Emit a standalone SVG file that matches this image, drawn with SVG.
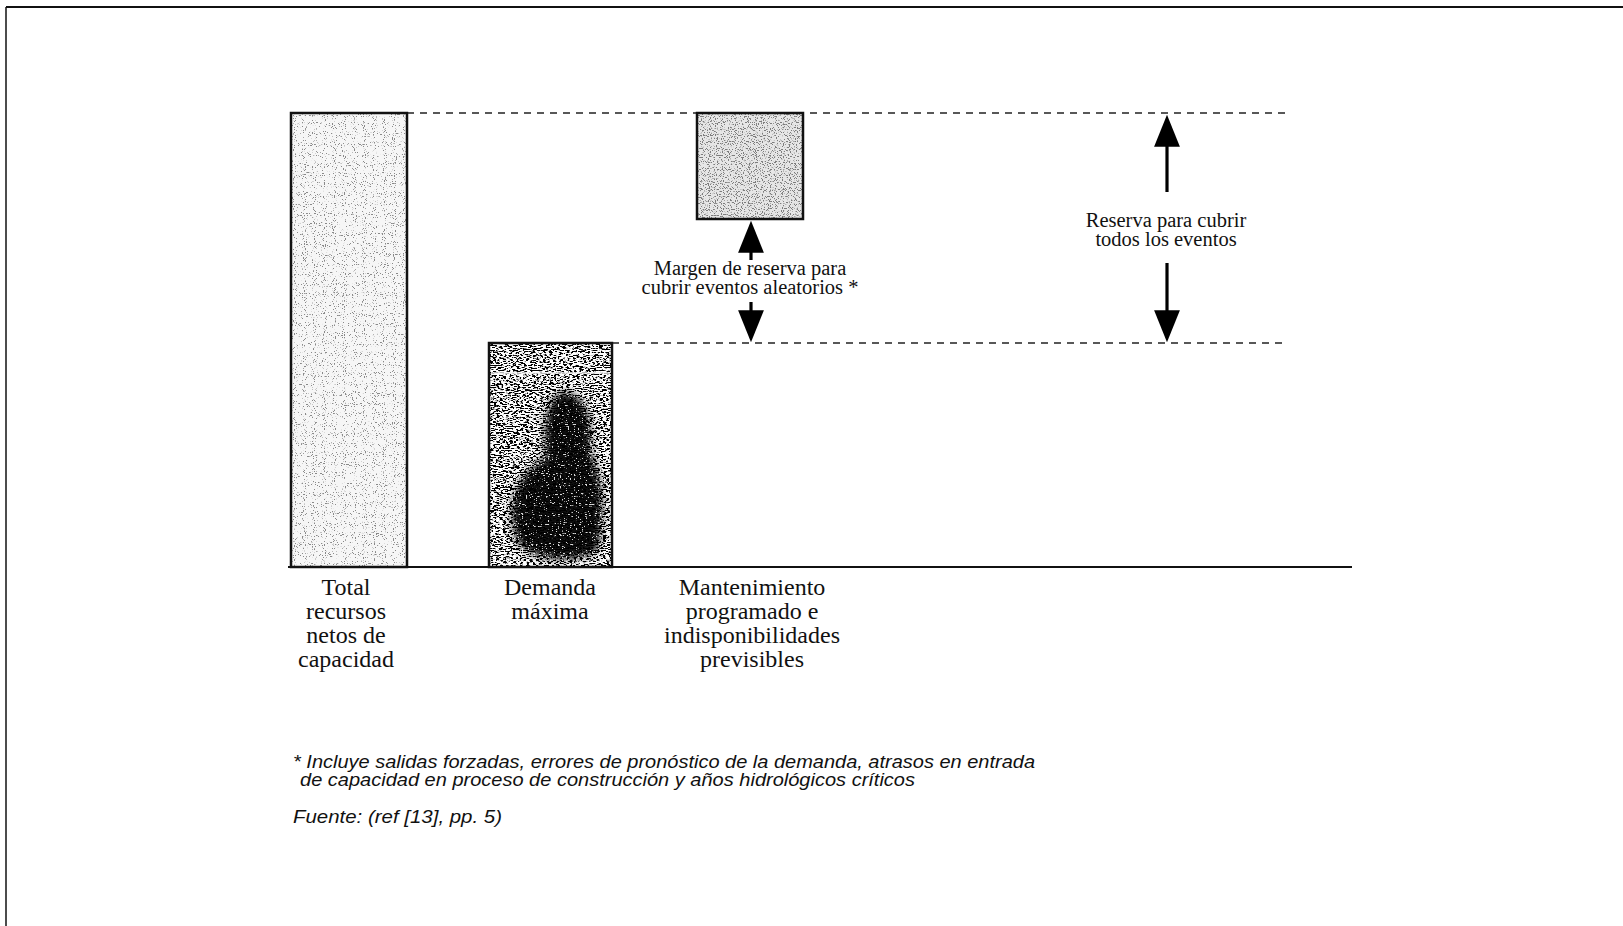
<svg xmlns="http://www.w3.org/2000/svg" width="1623" height="926" viewBox="0 0 1623 926">
  <style>
    .edge { fill: none; stroke: #111; stroke-width: 2.5; }
    .guide { fill: none; stroke: #222; stroke-width: 1.6; stroke-dasharray: 7 6; }
    .axis { stroke: #111; stroke-width: 2; }
    .frame { stroke: #111; fill: none; }
    .shaft { stroke: #000; stroke-width: 3.2; }
    .lbl { font-family: "Liberation Serif", "Times New Roman", serif; font-size: 24px; fill: #111; text-anchor: middle; }
    .small { font-family: "Liberation Serif", "Times New Roman", serif; font-size: 20.5px; fill: #111; text-anchor: middle; }
    .note { font-family: "Liberation Sans Narrow", "Liberation Sans", Arial, sans-serif; font-style: italic; font-size: 18px; fill: #111; }
  </style>
  <defs>
    <!-- light speckle: sparse dark dots on white -->
    <filter id="grainLight" x="0" y="0" width="100%" height="100%">
      <feTurbulence type="fractalNoise" baseFrequency="0.9" numOctaves="1" seed="2" result="n"/>
      <feColorMatrix in="n" type="matrix" values="0 0 0 0 0.25  0 0 0 0 0.25  0 0 0 0 0.25  -14 0 0 0 5.5" result="dots"/>
      <feComposite in="dots" in2="SourceGraphic" operator="atop"/>
    </filter>
    <!-- medium speckle for the maintenance block -->
    <filter id="grainMid" x="0" y="0" width="100%" height="100%">
      <feTurbulence type="fractalNoise" baseFrequency="0.85" numOctaves="1" seed="7" result="n"/>
      <feColorMatrix in="n" type="matrix" values="0 0 0 0 0.2  0 0 0 0 0.2  0 0 0 0 0.2  -12 0 0 0 5.5" result="dots"/>
      <feComposite in="dots" in2="SourceGraphic" operator="atop"/>
    </filter>
    <!-- dark grain: white streaks on black -->
    <filter id="grainDark" x="0" y="0" width="100%" height="100%">
      <feTurbulence type="fractalNoise" baseFrequency="0.3 0.95" numOctaves="2" seed="5" result="n"/>
      <feColorMatrix in="n" type="matrix" values="0 0 0 0 1  0 0 0 0 1  0 0 0 0 1  12 0 0 0 -5.4" result="dots"/>
      <feComposite in="dots" in2="SourceGraphic" operator="atop"/>
    </filter>
    <!-- a few white flecks inside the dark core -->
    <filter id="fleck" x="0" y="0" width="100%" height="100%">
      <feTurbulence type="fractalNoise" baseFrequency="0.5 1.1" numOctaves="1" seed="11" result="n"/>
      <feColorMatrix in="n" type="matrix" values="0 0 0 0 1  0 0 0 0 1  0 0 0 0 1  16 0 0 0 -10.2" result="dots"/>
      <feComposite in="dots" in2="SourceGraphic" operator="in"/>
    </filter>
    <filter id="soft" x="-30%" y="-30%" width="160%" height="160%">
      <feGaussianBlur stdDeviation="4.5"/>
    </filter>
    <clipPath id="clipDemanda">
      <rect x="489" y="343" width="123" height="224"/>
    </clipPath>
    <marker id="head" markerUnits="userSpaceOnUse" markerWidth="32" markerHeight="26" viewBox="0 0 31 25" refX="23" refY="12.5" orient="auto">
      <path d="M0,0 L31,12.5 L0,25 Z" fill="#000"/>
    </marker>
  </defs>

  <rect width="1623" height="926" fill="#fff"/>

  <!-- page frame -->
  <g id="frame">
    <line class="frame" x1="6" y1="7" x2="1623" y2="7" stroke-width="2.2"/>
    <line class="frame" x1="6" y1="7" x2="6" y2="926" stroke-width="1.5"/>
  </g>

  <!-- level guides -->
  <g id="guides">
    <line class="guide" x1="407" y1="113" x2="1290" y2="113"/>
    <line class="guide" x1="612" y1="343" x2="1285" y2="343"/>
  </g>

  <g id="bar-total">
    <rect x="291" y="113" width="116" height="454" fill="#f6f6f6" filter="url(#grainLight)"/>
    <rect class="edge" x="291" y="113" width="116" height="454"/>
  </g>

  <g id="bar-demanda">
    <rect x="489" y="343" width="123" height="224" fill="#000" filter="url(#grainDark)"/>
    <g clip-path="url(#clipDemanda)">
      <path d="M563 392 C585 392 594 420 590 452 C602 474 606 512 598 550 C575 566 528 560 518 542 C504 512 514 474 546 458 C541 432 547 395 563 392 Z" fill="#000" opacity="0.94" filter="url(#soft)"/>
      <rect x="489" y="343" width="123" height="224" fill="#fff" opacity="0.85" filter="url(#fleck)"/>
    </g>
    <line x1="491" y1="373" x2="610" y2="373" stroke="#f2f2f2" stroke-width="1.6"/>
    <rect class="edge" x="489" y="343" width="123" height="224"/>
  </g>

  <g id="box-mantenimiento">
    <rect x="697" y="113" width="106" height="106" fill="#e6e6e6" filter="url(#grainMid)"/>
    <rect class="edge" x="697" y="113" width="106" height="106"/>
  </g>

  <!-- base line -->
  <g id="axis">
    <line class="axis" x1="288" y1="567" x2="1352" y2="567"/>
  </g>

  <!-- reserve arrows -->
  <g id="connectors">
    <line class="shaft" x1="751" y1="260" x2="751" y2="229" marker-end="url(#head)"/>
    <line class="shaft" x1="751" y1="302" x2="751" y2="334" marker-end="url(#head)"/>
    <line class="shaft" x1="1167" y1="192" x2="1167" y2="123" marker-end="url(#head)"/>
    <line class="shaft" x1="1167" y1="263" x2="1167" y2="334" marker-end="url(#head)"/>
  </g>

  <g id="label-margen">
    <text class="small" x="750" y="275">Margen de reserva para</text>
    <text class="small" x="750" y="294">cubrir eventos aleatorios *</text>
  </g>

  <g id="label-reserva">
    <text class="small" x="1166" y="227">Reserva para cubrir</text>
    <text class="small" x="1166" y="246">todos los eventos</text>
  </g>

  <g id="label-total">
    <text class="lbl" x="346" y="595">Total</text>
    <text class="lbl" x="346" y="619">recursos</text>
    <text class="lbl" x="346" y="643">netos de</text>
    <text class="lbl" x="346" y="667">capacidad</text>
  </g>

  <g id="label-demanda">
    <text class="lbl" x="550" y="595">Demanda</text>
    <text class="lbl" x="550" y="619">máxima</text>
  </g>

  <g id="label-mantenimiento">
    <text class="lbl" x="752" y="595">Mantenimiento</text>
    <text class="lbl" x="752" y="619">programado e</text>
    <text class="lbl" x="752" y="643">indisponibilidades</text>
    <text class="lbl" x="752" y="667">previsibles</text>
  </g>

  <g id="note">
    <text class="note" x="293" y="768" textLength="742" lengthAdjust="spacingAndGlyphs">* Incluye salidas forzadas, errores de pronóstico de la demanda, atrasos en entrada</text>
    <text class="note" x="300" y="786" textLength="615" lengthAdjust="spacingAndGlyphs">de capacidad en proceso de construcción y años hidrológicos críticos</text>
    <text class="note" x="293" y="823" textLength="209" lengthAdjust="spacingAndGlyphs">Fuente: (ref [13], pp. 5)</text>
  </g>
</svg>
